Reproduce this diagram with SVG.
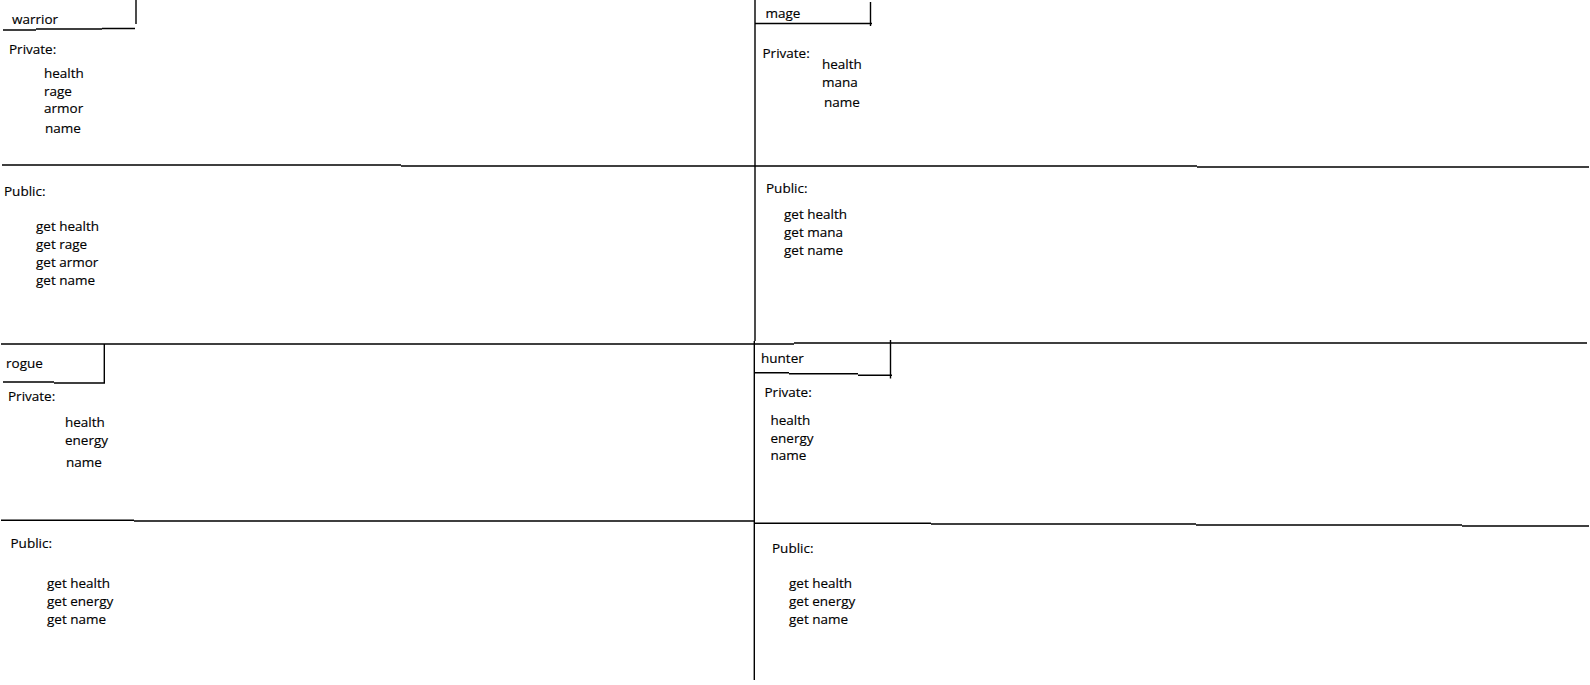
<svg xmlns="http://www.w3.org/2000/svg" width="1590" height="685" viewBox="0 0 1590 685">
  <style>
    .ln { stroke: #000; stroke-width: 1.4; fill: none; }
    .tx { font-family: "Open Sans", "Liberation Sans", sans-serif; font-size: 13.5px; fill: #000; stroke: #000; stroke-width: 0.15; }
  </style>
  <rect width="1590" height="685" fill="#fff"/>

  <!-- grid lines separating the four classes and their sections -->
  <g id="connectors">
    <!-- centre divider -->
    <path class="ln" d="M755 0 V341 M754.3 341 V680"/>
    <!-- private / public split, top row -->
    <path class="ln" d="M2 165 H401 M401 166 H1197 M1197 167 H1589"/>
    <!-- row divider -->
    <path class="ln" d="M1 344 H794 M794 343 H1587"/>
    <!-- private / public split, bottom row -->
    <path class="ln" d="M1 520.3 H134 M134 521 H755 M754 523.3 H931 M931 524 H1196 M1196 525 H1462 M1462 526 H1589"/>
  </g>

  <g id="warrior">
    <path class="ln" d="M136 0 V24 M3 30 H36 M36 29 H102 M102 28.5 H135"/>
    <text class="tx" x="12" y="24">warrior</text>
    <text class="tx" x="9" y="54">Private:</text>
    <text class="tx" x="44" y="77.5">health</text>
    <text class="tx" x="44" y="95.5">rage</text>
    <text class="tx" x="44" y="113">armor</text>
    <text class="tx" x="45" y="132.5">name</text>
    <text class="tx" x="4" y="196">Public:</text>
    <text class="tx" x="36" y="231">get health</text>
    <text class="tx" x="36" y="249">get rage</text>
    <text class="tx" x="36" y="266.5">get armor</text>
    <text class="tx" x="36" y="284.5">get name</text>
  </g>

  <g id="mage">
    <path class="ln" d="M870.5 2 V26 M755 23.5 H872"/>
    <text class="tx" x="765.5" y="17.5">mage</text>
    <text class="tx" x="762.5" y="57.5">Private:</text>
    <text class="tx" x="822" y="69">health</text>
    <text class="tx" x="822" y="87">mana</text>
    <text class="tx" x="824" y="107">name</text>
    <text class="tx" x="766" y="193">Public:</text>
    <text class="tx" x="784" y="218.5">get health</text>
    <text class="tx" x="784" y="236.5">get mana</text>
    <text class="tx" x="784" y="254.5">get name</text>
  </g>

  <g id="rogue">
    <path class="ln" d="M104.3 344 V383 M3 382 H54 M54 383 H105"/>
    <text class="tx" x="6" y="368">rogue</text>
    <text class="tx" x="8" y="400.5">Private:</text>
    <text class="tx" x="65" y="427">health</text>
    <text class="tx" x="65" y="445">energy</text>
    <text class="tx" x="66" y="467">name</text>
    <text class="tx" x="10.5" y="547.5">Public:</text>
    <text class="tx" x="47" y="588">get health</text>
    <text class="tx" x="47" y="606">get energy</text>
    <text class="tx" x="47" y="624">get name</text>
  </g>

  <g id="hunter">
    <path class="ln" d="M890.5 340 V378.5 M754 372.7 H789 M789 373.7 H858 M858 375.3 H892"/>
    <text class="tx" x="761" y="363">hunter</text>
    <text class="tx" x="764.5" y="396.5">Private:</text>
    <text class="tx" x="770.5" y="424.5">health</text>
    <text class="tx" x="770.5" y="442.5">energy</text>
    <text class="tx" x="770.5" y="460">name</text>
    <text class="tx" x="772" y="553">Public:</text>
    <text class="tx" x="789" y="588">get health</text>
    <text class="tx" x="789" y="606">get energy</text>
    <text class="tx" x="789" y="624">get name</text>
  </g>
</svg>
